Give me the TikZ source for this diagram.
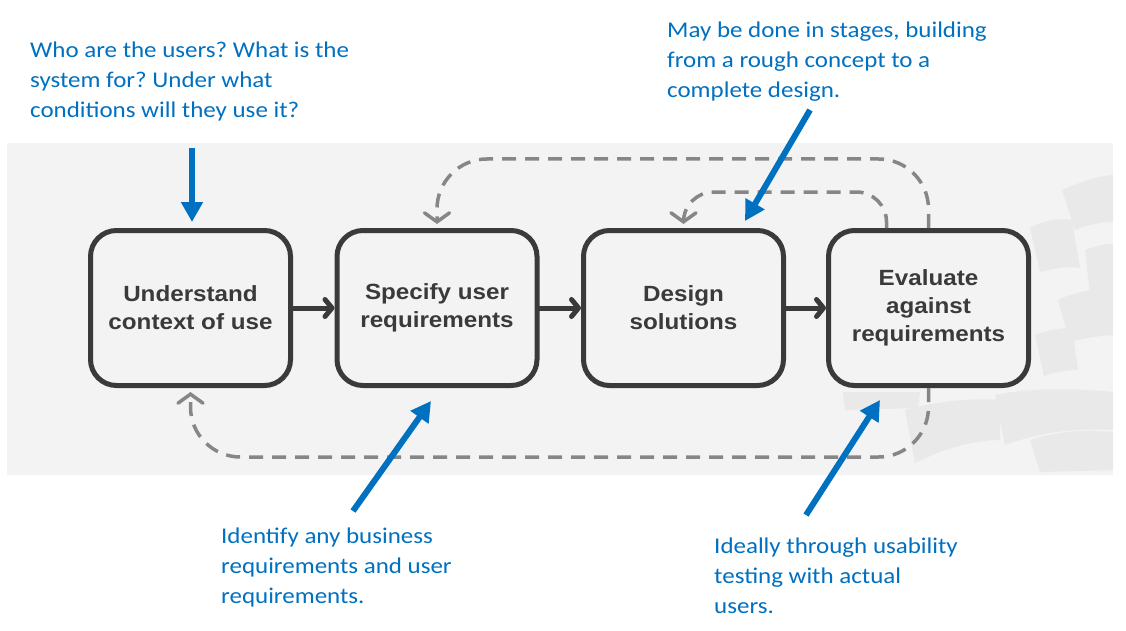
\documentclass[tikz,border=0pt]{standalone}
\usepackage{fontspec}
\setmainfont[FakeStretch=1.11]{Carlito}
\newfontfamily\boxfont[FakeStretch=1.1]{Liberation Sans}
\usetikzlibrary{arrows.meta}
\frenchspacing
\definecolor{panel}{HTML}{F3F3F3}
\definecolor{boxline}{HTML}{3A3A3A}
\definecolor{dashc}{HTML}{868686}
\definecolor{noteblue}{HTML}{0070C0}
\definecolor{deco}{HTML}{E9E9E9}
\begin{document}
\begin{tikzpicture}[x=1pt,y=-1pt,
  stage/.style={draw=boxline, line width=5pt, rounded corners=26pt, fill=panel,
    minimum width=200pt, minimum height=155pt, align=center, inner sep=0pt,
    font=\boxfont\bfseries\fontsize{22}{28}\selectfont, text=boxline},
  flow/.style={draw=boxline, line width=5pt, line cap=round,
    -{Straight Barb[length=7pt,width=17pt,line cap=round,line join=round]}},
  loop/.style={draw=dashc, line width=3.5pt, dash pattern=on 14pt off 9pt,
    rounded corners=50pt, -{Straight Barb[length=9pt,width=25pt,line cap=round]}},
  note/.style={draw=noteblue, line width=6pt, -{Triangle[length=20pt,width=21pt]}},
  notetext/.style={anchor=base west, align=left, inner sep=0pt, text=noteblue,
    font=\frenchspacing\fontsize{22.5}{30}\selectfont},
  decofill/.style={fill=deco, draw=none}
]
\useasboundingbox (0,0) rectangle (1126,631);
% panel
\fill[panel] (7,143) rectangle (1113,475);
% faint tree decoration
\fill[decofill] (1062,190) .. controls (1085,180) and (1100,176) .. (1113,175) -- (1113,222) .. controls (1100,222) and (1088,225) .. (1075,230) -- cycle;
\fill[decofill] (1030,228) .. controls (1045,220) and (1060,218) .. (1072,220) -- (1080,268) .. controls (1068,266) and (1055,268) .. (1040,272) -- cycle;
\fill[decofill] (1085,250) .. controls (1095,246) and (1105,244) .. (1113,244) -- (1113,290) .. controls (1105,290) and (1098,292) .. (1090,295) -- cycle;
\fill[decofill] (1058,300) .. controls (1075,292) and (1095,288) .. (1113,288) -- (1113,335) .. controls (1098,336) and (1085,338) .. (1070,342) -- cycle;
\fill[decofill] (1035,335) .. controls (1048,330) and (1060,328) .. (1072,328) -- (1078,370) .. controls (1066,370) and (1055,372) .. (1044,376) -- cycle;
\fill[decofill] (843,392) -- (920,392) -- (918,408) -- (845,410) -- cycle;
\fill[decofill] (905,410) .. controls (940,400) and (980,398) .. (1000,400) -- (1000,440) .. controls (975,440) and (945,448) .. (915,463) -- cycle;
\fill[decofill] (995,395) .. controls (1030,388) and (1070,388) .. (1113,392) -- (1113,430) .. controls (1075,428) and (1040,432) .. (1005,445) -- cycle;
\fill[decofill] (1030,440) .. controls (1060,430) and (1090,430) .. (1113,432) -- (1113,470) -- (1040,472) -- cycle;
% stages
\node[stage] (b1) at (190.5,308) {Understand\\context of use};
\node[stage] (b2) at (437,308) {Specify user\\requirements};
\node[stage] (b3) at (683.5,308) {Design\\solutions};
\node[stage] (b4) at (928.5,308) {Evaluate\\against\\requirements};
% flow arrows
\draw[flow] (b1.east) -- (b2.west);
\draw[flow] (b2.east) -- (b3.west);
\draw[flow] (b3.east) -- (b4.west);
% dashed feedback loops
\draw[loop] (b4.south) -- ++(0,69) -| ([yshift=-4pt]b1.south);
\draw[loop] (b4.north) -- ++(0,-69) -| ([yshift=4pt]b2.north);
\draw[loop, rounded corners=30pt] ([xshift=-42pt]b4.north) -- ++(0,-36) -| ([yshift=4pt]b3.north);
% notes (anchor at baseline of last line)
\node[notetext] (t1) at (30,118) {Who are the users? What is the\\system for? Under what\\conditions will they use it?};
\node[notetext] (t2) at (667,98) {May be done in stages, building\\from a rough concept to a\\complete design.};
\node[notetext] (t3) at (221,603) {Identify any business\\requirements and user\\requirements.};
\node[notetext] (t4) at (714,613) {Ideally through usability\\testing with actual\\users.};
% note arrows
\coordinate (s1) at (192,148);
\coordinate (s2) at (810,110);
\coordinate (s3) at (353,511);
\coordinate (s4) at (806,515);
\draw[note] (s1) -- ([xshift=1.5pt,yshift=6pt]b1.north);
\draw[note] (s2) -- ([xshift=61.5pt,yshift=7pt]b3.north);
\draw[note] (s3) -- ([xshift=-6pt,yshift=-13pt]b2.south);
\draw[note] (s4) -- ([xshift=-48.5pt,yshift=-12pt]b4.south);
\end{tikzpicture}
\end{document}
